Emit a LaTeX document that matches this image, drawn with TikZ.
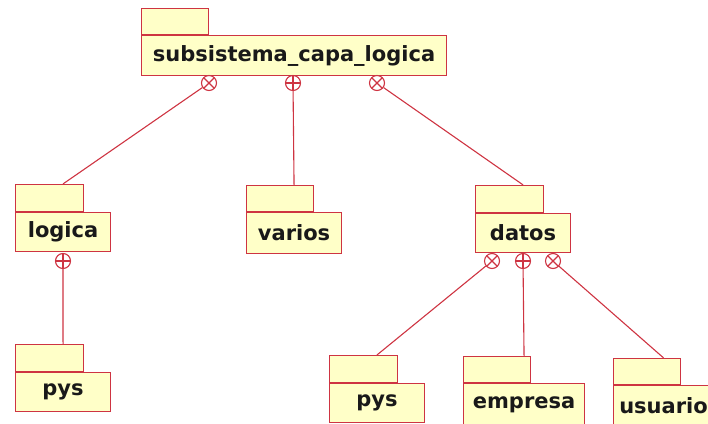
\documentclass[tikz,border=0pt]{standalone}
\usepackage{fontspec}
\setmainfont{DejaVu Sans}
\definecolor{umlred}{RGB}{206,52,66}
\definecolor{umlfill}{RGB}{255,255,200}

% \umlpkg{name}{left}{tab top}{body top}{tab right}{body right}{body bottom}{label}
\newcommand\umlpkg[8]{%
  \node[pkgbody, minimum width={#6-#2}, minimum height={#7-#4}] (#1) at (#2,#4) {#8};
  \node[pkgtab, minimum width={#5-#2}, minimum height={#4-#3}] (#1tab) at (#1.north west) {};
}

\begin{document}
\begin{tikzpicture}[x=1pt,y=-1pt,
  pkgline/.style={draw=umlred, line width=1.1pt},
  pkgbody/.style={pkgline, fill=umlfill, rectangle, inner sep=0pt, anchor=north west,
    font=\bfseries\fontsize{21}{24}\selectfont, text=black!90},
  pkgtab/.style={pkgline, fill=umlfill, rectangle, inner sep=0pt, anchor=south west},
  link/.style={draw=umlred, line width=1.1pt},
  ornode/.style={circle, draw=umlred, line width=1.1pt, fill=white, minimum size=15pt, inner sep=0pt},
  oplus/.style={ornode, path picture={\draw[umlred, line width=1.1pt]
      (path picture bounding box.north) -- (path picture bounding box.south)
      (path picture bounding box.west) -- (path picture bounding box.east);}},
  otimes/.style={ornode, path picture={\draw[umlred, line width=1.1pt]
      (path picture bounding box.north west) -- (path picture bounding box.south east)
      (path picture bounding box.north east) -- (path picture bounding box.south west);}}
]
\useasboundingbox (0,0) rectangle (708,423);
\clip (0,0) rectangle (708,423);

% packages
\umlpkg{capa}{141}{9}{35}{208}{446}{75}{subsistema\_capa\_logica}
\umlpkg{logica}{15}{185}{212}{83}{110}{251}{logica}
\umlpkg{varios}{246}{186}{212}{313}{341}{253}{varios}
\umlpkg{datos}{475}{186}{213}{543}{570}{252}{datos}
\umlpkg{pysA}{15}{345}{372}{83}{110}{411}{pys}
\umlpkg{pysB}{329}{356}{383}{397}{424}{422}{pys}
\umlpkg{empresa}{463}{357}{383}{530}{584}{425}{empresa}
\umlpkg{usuario}{613}{359}{385}{680}{713}{426}{usuario}

% containment markers under the owning packages
\node[otimes] (c1) at (209,83) {};
\node[oplus]  (c2) at (293,83) {};
\node[otimes] (c3) at (377,83) {};
\node[oplus]  (l1) at (63,261) {};
\node[otimes] (d1) at (492,261) {};
\node[oplus]  (d2) at (523,261) {};
\node[otimes] (d3) at (553,261) {};

% connectors
\draw[link] (c1) -- (logica.center |- logicatab.north);
\draw[link] (c2) -- (varios.center |- variostab.north);
\draw[link] (c3) -- (datos.center |- datostab.north);
\draw[link] (l1) -- (pysA.center |- pysAtab.north);
\draw[link] (d1) -- (pysB.center |- pysBtab.north);
\draw[link] (d2) -- (empresa.center |- empresatab.north);
\draw[link] (d3) -- (usuario.center |- usuariotab.north);
\end{tikzpicture}
\end{document}
